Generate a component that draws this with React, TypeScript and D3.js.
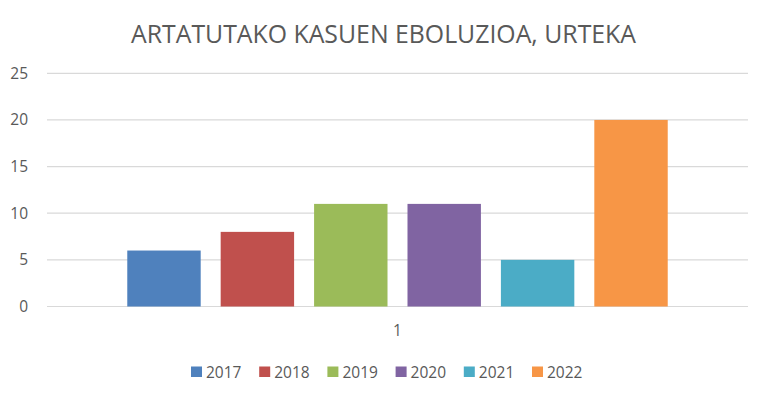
import React from "react";
import * as d3 from "d3";

const title = "ARTATUTAKO KASUEN EBOLUZIOA, URTEKA";
const categories = ["1"];
const years = ["2017", "2018", "2019", "2020", "2021", "2022"];
const values = [6, 8, 11, 11, 5, 20];
const colors = ["#4F81BD", "#C0504D", "#9BBB59", "#8064A2", "#4BACC6", "#F79646"];
const yTicks = [0, 5, 10, 15, 20, 25];

const W = 768;
const H = 399;
const font = "'Open Sans', 'Liberation Sans', sans-serif";
const textColor = "#595959";

export default function App() {
  const left = 47;
  const right = 748;
  const top = 73.3;
  const bottom = 306.5;

  const y = d3.scaleLinear().domain([0, 25]).range([bottom, top]);
  const x0 = d3
    .scaleBand<string>()
    .domain(categories)
    .range([left, right])
    .paddingInner(0)
    .paddingOuter(0.1254);
  const x1 = d3
    .scaleBand<string>()
    .domain(years)
    .range([0, x0.bandwidth()])
    .paddingInner(0.214)
    .paddingOuter(0.107);

  const legendStart = 191;
  const legendStep = 68.2;

  return (
    <svg
      width={W}
      height={H}
      style={{ position: "absolute", left: 0, top: 0, background: "#fff" }}
      fontFamily={font}
    >
      <rect x={0} y={0} width={W} height={H} fill="#fff" />
      <text
        x={383.5}
        y={43}
        textAnchor="middle"
        fontSize={25}
        fill={textColor}
        textLength={505}
        lengthAdjust="spacingAndGlyphs"
      >
        {title}
      </text>

      {yTicks.map((t) => (
        <g key={t}>
          <line
            x1={left}
            x2={right}
            y1={y(t)}
            y2={y(t)}
            stroke="#D9D9D9"
            strokeWidth={1.2}
          />
          <text
            x={28}
            y={y(t) + 5.5}
            textAnchor="end"
            fontSize={15.5}
            fill={textColor}
          >
            {t}
          </text>
        </g>
      ))}

      {categories.map((c) => (
        <g key={c} transform={`translate(${x0(c)},0)`}>
          {years.map((yr, i) => (
            <rect
              key={yr}
              x={x1(yr)}
              y={y(values[i])}
              width={x1.bandwidth()}
              height={y(0) - y(values[i])}
              fill={colors[i]}
            />
          ))}
          <text
            x={x0.bandwidth() / 2}
            y={336}
            textAnchor="middle"
            fontSize={15.5}
            fill={textColor}
          >
            {c}
          </text>
        </g>
      ))}

      {years.map((yr, i) => (
        <g key={yr} transform={`translate(${legendStart + i * legendStep},0)`}>
          <rect x={0} y={366.5} width={11} height={10.5} fill={colors[i]} />
          <text x={15} y={377.5} fontSize={15.5} fill={textColor}>
            {yr}
          </text>
        </g>
      ))}
    </svg>
  );
}
